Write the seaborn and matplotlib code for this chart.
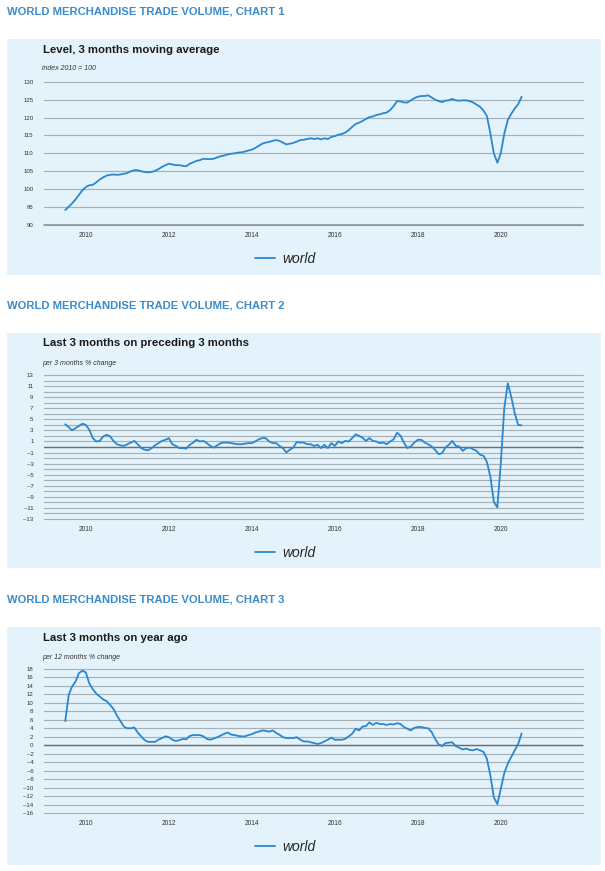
import matplotlib
matplotlib.use("Agg")
import matplotlib.pyplot as plt
import matplotlib.dates as mdates
from matplotlib.patches import Rectangle
import seaborn as sns
import pandas as pd

W, H = 605, 871

# monthly points, Jan 2010 .. Jan 2021
months = pd.date_range("2010-01-01", "2021-01-01", freq="MS")

# chart 1: level, 3 months moving average (index 2010 = 100)
level = [
    94.2, 95.1, 96.0, 97.1, 98.4, 99.7, 100.6, 101.1, 101.2, 101.9, 102.7, 103.3,
    103.8, 104.0, 104.1, 104.0, 104.1, 104.3, 104.5, 105.0, 105.3, 105.3, 105.0, 104.8,
    104.7, 104.8, 105.1, 105.6, 106.2, 106.7, 107.1, 106.9, 106.7, 106.7, 106.5, 106.4,
    107.1, 107.5, 107.9, 108.1, 108.5, 108.4, 108.4, 108.5, 108.9, 109.2, 109.4, 109.7,
    109.9, 110.0, 110.2, 110.3, 110.5, 110.8, 111.0, 111.5, 112.1, 112.7, 113.0, 113.2,
    113.5, 113.7, 113.5, 113.0, 112.5, 112.7, 112.9, 113.3, 113.7, 113.8, 114.0, 114.2,
    114.0, 114.2, 113.9, 114.2, 114.0, 114.6, 114.8, 115.2, 115.4, 115.8, 116.5, 117.4,
    118.2, 118.6, 119.0, 119.6, 120.1, 120.3, 120.7, 120.9, 121.2, 121.4, 122.1, 123.2,
    124.6, 124.5, 124.2, 124.2, 124.8, 125.4, 125.8, 126.0, 126.0, 126.2, 125.6, 125.0,
    124.6, 124.3, 124.7, 124.8, 125.2, 124.8, 124.7, 124.8, 124.8, 124.6, 124.2, 123.6,
    123.0, 121.9, 120.4, 115.5, 110.0, 107.4, 110.0, 115.5, 119.3, 121.0, 122.5, 123.7,
    125.8,
]

# chart 2: last 3 months on preceding 3 months, % change
qoq = [
    4.1, 3.6, 3.0, 3.4, 3.8, 4.2, 4.0, 3.1, 1.6, 1.0, 1.1, 1.9,
    2.2, 1.9, 1.1, 0.5, 0.3, 0.2, 0.5, 0.8, 1.1, 0.5, -0.2, -0.5,
    -0.6, -0.2, 0.3, 0.7, 1.1, 1.3, 1.6, 0.5, 0.2, -0.2, -0.2, -0.3,
    0.4, 0.8, 1.3, 1.0, 1.1, 0.7, 0.2, -0.1, 0.3, 0.7, 0.8, 0.8,
    0.7, 0.6, 0.5, 0.5, 0.6, 0.7, 0.7, 1.0, 1.4, 1.6, 1.6, 1.0,
    0.7, 0.7, 0.2, -0.2, -1.0, -0.5, -0.1, 0.9, 0.8, 0.8, 0.5, 0.5,
    0.2, 0.4, -0.2, 0.4, -0.2, 0.7, 0.2, 1.0, 0.7, 1.1, 1.0, 1.6,
    2.3, 2.0, 1.7, 1.1, 1.6, 1.1, 1.0, 0.7, 0.8, 0.5, 1.0, 1.4,
    2.6, 2.0, 0.8, -0.2, 0.1, 0.8, 1.3, 1.3, 0.8, 0.5, 0.1, -0.5,
    -1.3, -1.1, -0.1, 0.4, 1.1, 0.2, 0.1, -0.7, -0.2, -0.1, -0.4, -0.7,
    -1.4, -1.6, -2.7, -5.4, -9.9, -10.9, -3.0, 7.0, 11.5, 9.1, 6.1, 4.0,
    3.9,
]

# chart 3: last 3 months on year ago, % change
yoy = [
    5.7, 11.9, 13.8, 15.0, 17.0, 17.6, 17.2, 14.6, 13.2, 12.2, 11.5, 10.8,
    10.4, 9.5, 8.6, 7.0, 5.7, 4.4, 4.0, 4.0, 4.2, 3.0, 2.1, 1.2,
    0.8, 0.8, 0.8, 1.3, 1.7, 2.1, 1.9, 1.3, 1.0, 1.2, 1.5, 1.4,
    2.2, 2.4, 2.4, 2.4, 2.1, 1.5, 1.3, 1.6, 1.9, 2.3, 2.7, 3.0,
    2.5, 2.4, 2.2, 2.1, 2.1, 2.4, 2.6, 3.0, 3.2, 3.5, 3.4, 3.2,
    3.5, 2.9, 2.5, 1.9, 1.7, 1.7, 1.7, 1.9, 1.3, 0.9, 0.9, 0.7,
    0.5, 0.3, 0.5, 0.9, 1.3, 1.8, 1.3, 1.3, 1.3, 1.5, 2.1, 2.7,
    3.9, 3.5, 4.4, 4.5, 5.4, 4.8, 5.3, 5.0, 5.0, 4.8, 5.0, 4.9,
    5.2, 5.0, 4.3, 3.9, 3.5, 4.1, 4.3, 4.3, 4.1, 4.0, 3.1, 1.5,
    0.2, -0.2, 0.5, 0.6, 0.7, -0.2, -0.6, -1.0, -0.8, -1.1, -1.2, -0.9,
    -1.2, -1.6, -3.2, -7.2, -12.3, -13.9, -10.3, -6.6, -4.3, -2.8, -1.2, 0.3,
    2.8,
]

LINE = "#2a87cf"
TITLE = "#3a8ccc"
PANEL = "#e4f3fb"
GRID = "#a6b0b5"
ZERO = "#6e6e6e"


def fy(y):
    return 1 - y / H


def draw_chart(fig, values, number, subtitle, unit, yticks, layout, zero_line=True):
    """Draw one titled panel with its line chart"""
    L = layout
    fig.text(7 / W, fy(L["title"]), f"WORLD MERCHANDISE TRADE VOLUME, CHART {number}",
             color=TITLE, fontsize=8.1, fontweight="bold", va="center")
    fig.patches.append(Rectangle((7 / W, fy(L["panel"][1])), 594 / W,
                                 (L["panel"][1] - L["panel"][0]) / H,
                                 transform=fig.transFigure, facecolor=PANEL,
                                 edgecolor="none", zorder=-1))
    fig.text(43 / W, fy(L["sub"]), subtitle, fontsize=8.2, fontweight="bold",
             color="#1a1a1a", va="center")
    fig.text(42 / W, fy(L["unit"]), unit, fontsize=5.0, style="italic",
             color="#333333", va="center")

    top, bottom = L["axes"]
    ax = fig.add_axes([44 / W, fy(bottom), 539 / W, (bottom - top) / H])
    ax.set_facecolor("none")

    df = pd.DataFrame({"month": months, "value": values})
    sns.lineplot(data=df, x="month", y="value", ax=ax, color=LINE, linewidth=1.3,
                 label="world", zorder=5)

    ax.set_ylim(yticks[0], yticks[-1])
    ax.set_xlim(pd.Timestamp("2009-06-28"), pd.Timestamp("2022-06-25"))
    for v in yticks:
        ax.axhline(v, color=GRID, linewidth=0.85, zorder=1, clip_on=False)
    if zero_line:
        ax.axhline(0, color=ZERO, linewidth=1.0, zorder=2)
    else:
        ax.axhline(yticks[0], color="#8c9599", linewidth=1.2, zorder=2, clip_on=False)

    ax.set_yticks(yticks)
    ax.set_yticklabels([str(v).replace("-", "\u2013") for v in yticks])
    ax.tick_params(axis="y", length=0, pad=7.5, labelsize=4.4, labelcolor="#333333")

    ax.xaxis.set_major_locator(mdates.YearLocator(1))
    ax.xaxis.set_major_formatter(plt.NullFormatter())
    label_pos = [pd.Timestamp(f"{y}-07-01") for y in range(2010, 2021, 2)]
    ax.set_xticks(label_pos, minor=True)
    ax.set_xticklabels([str(y) for y in range(2010, 2021, 2)], minor=True)
    ax.tick_params(axis="x", which="major", length=2.4, width=0.7, color="#9aa3a7")
    ax.tick_params(axis="x", which="minor", length=0, pad=5, labelsize=4.8,
                   labelcolor="#333333")
    ax.set_xlabel("")
    ax.set_ylabel("")
    sns.despine(ax=ax, left=True, bottom=True)

    ax.legend(loc="center", bbox_to_anchor=(285 / W, fy(L["legend"])),
              bbox_transform=fig.transFigure, frameon=False,
              prop={"style": "italic", "size": 10}, handlelength=1.45,
              handletextpad=0.5)
    return ax


sns.set_theme(style="white")
plt.rcParams["font.family"] = ["Liberation Sans", "DejaVu Sans"]

fig = plt.figure(figsize=(W / 100, H / 100), dpi=100)
fig.patch.set_facecolor("white")

draw_chart(fig, level, 1, "Level, 3 months moving average", "index 2010 = 100",
           list(range(90, 131, 5)),
           {"title": 12, "panel": (39, 275), "sub": 50, "unit": 69,
            "axes": (81.7, 225), "legend": 259},
           zero_line=False)
ax2 = draw_chart(fig, qoq, 2, "Last 3 months on preceding 3 months",
                 "per 3 months % change", list(range(-13, 14, 1)),
                 {"title": 305, "panel": (333, 568), "sub": 343, "unit": 363,
                  "axes": (375, 519), "legend": 553})
draw_chart(fig, yoy, 3, "Last 3 months on year ago", "per 12 months % change",
           list(range(-16, 19, 2)),
           {"title": 599, "panel": (627, 865), "sub": 638, "unit": 657,
            "axes": (669, 813), "legend": 847})

# chart 2 only labels odd values
ax2.set_yticklabels([str(v).replace("-", "\u2013") if v % 2 else "" for v in range(-13, 14)])

fig.savefig("out.png", dpi=100, facecolor="white")
